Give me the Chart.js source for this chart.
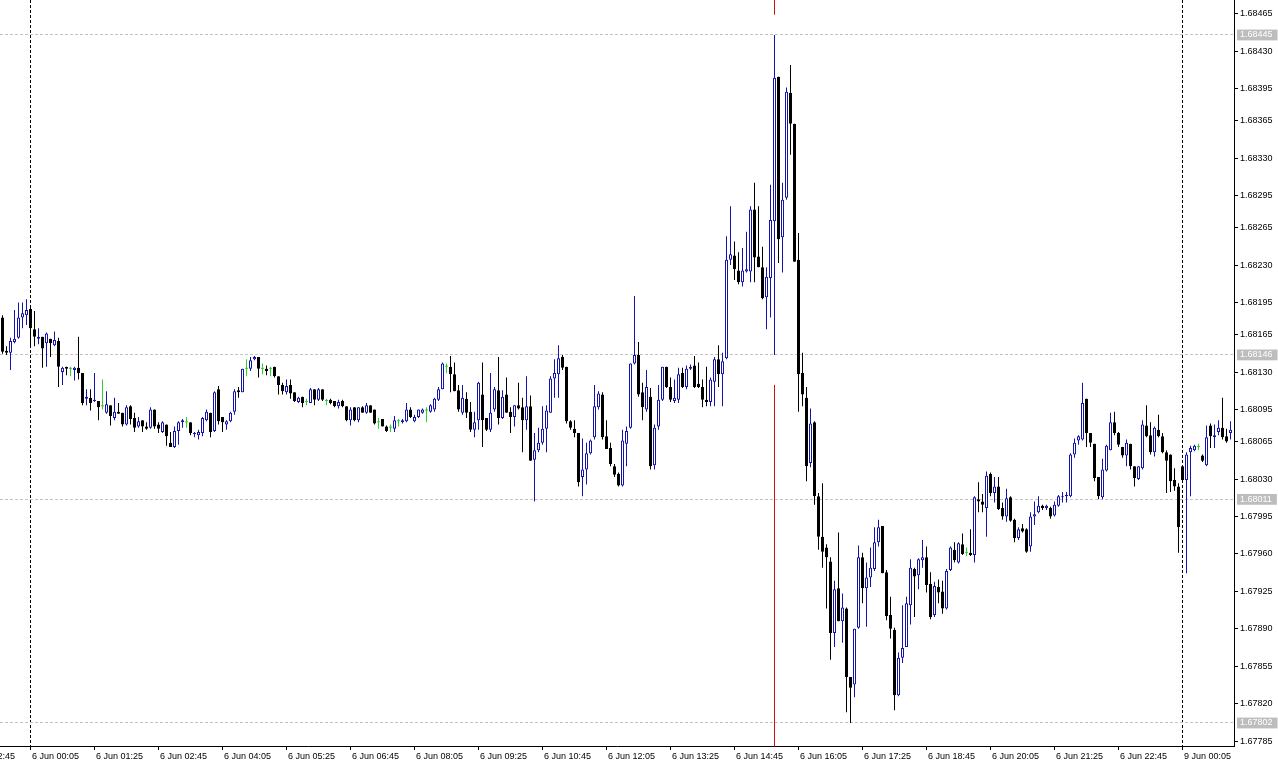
<!DOCTYPE html>
<html>
<head>
<meta charset="utf-8">
<script src="https://cdn.jsdelivr.net/npm/chart.js@4/dist/chart.umd.min.js"></script>
<style>
  html, body { margin: 0; padding: 0; background: #fff; }
  #wrap { width: 1278px; height: 765px; position: relative; }
</style>
</head>
<body>
<div id="wrap"><canvas id="priceChart"></canvas></div>
<script>
// M5 candles, one per bar index (0 = first bar on screen)
const open = [
  1.68181,1.68150,1.68148,1.68158,1.68162,1.68181,1.68183,1.68189,1.68170,1.68161,
  1.68163,1.68157,1.68161,1.68155,1.68159,1.68130,1.68135,1.68133,1.68132,1.68134,
  1.68129,1.68105,1.68106,1.68103,1.68103,1.68098,1.68092,1.68099,1.68087,1.68093,
  1.68092,1.68081,1.68098,1.68087,1.68079,1.68085,1.68079,1.68078,1.68095,1.68081,
  1.68074,1.68081,1.68064,1.68060,1.68075,1.68083,1.68083,1.68083,1.68072,1.68071,
  1.68073,1.68085,1.68092,1.68075,1.68114,1.68088,1.68081,1.68084,1.68093,1.68113,
  1.68111,1.68133,1.68133,1.68142,1.68144,1.68133,1.68133,1.68133,1.68135,1.68126,
  1.68118,1.68111,1.68118,1.68111,1.68102,1.68107,1.68102,1.68101,1.68114,1.68104,
  1.68114,1.68103,1.68104,1.68103,1.68098,1.68103,1.68098,1.68085,1.68097,1.68085,
  1.68097,1.68092,1.68099,1.68095,1.68083,1.68086,1.68079,1.68078,1.68077,1.68084,
  1.68083,1.68084,1.68095,1.68084,1.68088,1.68092,1.68094,1.68093,1.68095,1.68104,
  1.68114,1.68135,1.68135,1.68128,1.68113,1.68092,1.68105,1.68093,1.68076,1.68085,
  1.68109,1.68087,1.68076,1.68095,1.68113,1.68087,1.68109,1.68093,1.68088,1.68099,
  1.68097,1.68085,1.68098,1.68048,1.68057,1.68064,1.68077,1.68092,1.68124,1.68128,
  1.68144,1.68135,1.68084,1.68077,1.68073,1.68032,1.68039,1.68054,1.68069,1.68097,
  1.68109,1.68070,1.68059,1.68042,1.68035,1.68024,1.68063,1.68078,1.68138,1.68146,
  1.68111,1.68095,1.68107,1.68043,1.68079,1.68104,1.68135,1.68116,1.68103,1.68104,
  1.68129,1.68116,1.68133,1.68136,1.68119,1.68116,1.68104,1.68102,1.68121,1.68142,
  1.68128,1.68143,1.68235,1.68239,1.68225,1.68214,1.68224,1.68224,1.68282,1.68238,
  1.68228,1.68200,1.68218,1.68271,1.68406,1.68256,1.68293,1.68391,1.68362,1.68235,
  1.68129,1.68106,1.68045,1.68083,1.68014,1.67976,1.67966,1.67953,1.67886,1.67928,
  1.67897,1.67909,1.67845,1.67838,1.67891,1.67957,1.67928,1.67938,1.67946,1.67971,
  1.67986,1.67943,1.67903,1.67889,1.67828,1.67863,1.67873,1.67912,1.67946,1.67940,
  1.67954,1.67957,1.67932,1.67903,1.67929,1.67925,1.67909,1.67945,1.67964,1.67952,
  1.67969,1.67961,1.67961,1.67959,1.68011,1.68009,1.68003,1.68035,1.68017,1.68023,
  1.68003,1.67995,1.68013,1.67992,1.67975,1.67984,1.67983,1.67967,1.67995,1.67999,
  1.68005,1.68003,1.68003,1.67996,1.68005,1.68013,1.68014,1.68014,1.68053,1.68066,
  1.68067,1.68105,1.68073,1.68063,1.68032,1.68013,1.68038,1.68057,1.68083,1.68073,
  1.68060,1.68052,1.68063,1.68042,1.68030,1.68040,1.68080,1.68071,1.68055,1.68076,
  1.68070,1.68055,1.68053,1.68029,1.68023,1.68042,1.68029,1.68055,1.68057,1.68060,
  1.68052,1.68043,1.68080,1.68069,1.68074,1.68078,1.68070,1.68073
];
const high = [
  1.68183,1.68154,1.68162,1.68188,1.68195,1.68195,1.68198,1.68190,1.68187,1.68171,
  1.68163,1.68167,1.68161,1.68168,1.68162,1.68135,1.68135,1.68135,1.68135,1.68163,
  1.68129,1.68114,1.68114,1.68129,1.68103,1.68123,1.68112,1.68099,1.68106,1.68101,
  1.68092,1.68099,1.68099,1.68092,1.68088,1.68085,1.68083,1.68097,1.68095,1.68083,
  1.68084,1.68081,1.68074,1.68079,1.68084,1.68086,1.68088,1.68083,1.68074,1.68076,
  1.68088,1.68095,1.68092,1.68112,1.68117,1.68088,1.68085,1.68093,1.68114,1.68116,
  1.68133,1.68142,1.68144,1.68145,1.68144,1.68138,1.68136,1.68135,1.68135,1.68126,
  1.68120,1.68123,1.68123,1.68111,1.68107,1.68107,1.68105,1.68115,1.68114,1.68115,
  1.68114,1.68105,1.68105,1.68103,1.68104,1.68104,1.68098,1.68097,1.68097,1.68097,
  1.68098,1.68101,1.68099,1.68095,1.68087,1.68086,1.68080,1.68081,1.68089,1.68086,
  1.68086,1.68101,1.68097,1.68090,1.68095,1.68096,1.68097,1.68100,1.68106,1.68116,
  1.68139,1.68138,1.68145,1.68139,1.68118,1.68118,1.68111,1.68102,1.68093,1.68121,
  1.68139,1.68087,1.68129,1.68116,1.68144,1.68113,1.68125,1.68097,1.68099,1.68120,
  1.68106,1.68126,1.68108,1.68073,1.68078,1.68098,1.68099,1.68126,1.68142,1.68155,
  1.68146,1.68135,1.68085,1.68085,1.68073,1.68068,1.68064,1.68067,1.68118,1.68112,
  1.68111,1.68085,1.68064,1.68044,1.68036,1.68076,1.68079,1.68138,1.68201,1.68158,
  1.68120,1.68132,1.68115,1.68081,1.68118,1.68135,1.68135,1.68125,1.68123,1.68134,
  1.68134,1.68136,1.68137,1.68145,1.68139,1.68123,1.68135,1.68125,1.68144,1.68155,
  1.68148,1.68257,1.68285,1.68252,1.68242,1.68246,1.68261,1.68285,1.68307,1.68285,
  1.68247,1.68228,1.68305,1.68445,1.68406,1.68307,1.68396,1.68417,1.68362,1.68260,
  1.68148,1.68116,1.68096,1.68084,1.68017,1.68026,1.67969,1.67957,1.67935,1.67980,
  1.67923,1.67910,1.67845,1.67890,1.67968,1.67961,1.67952,1.67966,1.67985,1.67992,
  1.67986,1.67945,1.67920,1.67891,1.67868,1.67912,1.67920,1.67955,1.67947,1.67956,
  1.67973,1.67967,1.67943,1.67934,1.67936,1.67935,1.67946,1.67967,1.67971,1.67971,
  1.67979,1.67966,1.67983,1.68014,1.68027,1.68016,1.68037,1.68036,1.68032,1.68032,
  1.68008,1.68021,1.68014,1.67993,1.67985,1.67988,1.67984,1.67999,1.68009,1.68014,
  1.68006,1.68006,1.68004,1.68009,1.68015,1.68018,1.68018,1.68054,1.68068,1.68071,
  1.68120,1.68105,1.68073,1.68063,1.68032,1.68049,1.68062,1.68092,1.68093,1.68074,
  1.68060,1.68067,1.68063,1.68042,1.68042,1.68085,1.68099,1.68083,1.68079,1.68090,
  1.68073,1.68057,1.68053,1.68040,1.68026,1.68042,1.68055,1.68061,1.68062,1.68063,
  1.68053,1.68080,1.68082,1.68081,1.68085,1.68106,1.68077,1.68084
];
const low = [
  1.68147,1.68146,1.68132,1.68157,1.68161,1.68171,1.68174,1.68154,1.68154,1.68156,
  1.68134,1.68135,1.68144,1.68154,1.68116,1.68118,1.68127,1.68126,1.68122,1.68123,
  1.68099,1.68099,1.68094,1.68102,1.68085,1.68095,1.68091,1.68080,1.68085,1.68091,
  1.68079,1.68080,1.68081,1.68074,1.68078,1.68074,1.68076,1.68077,1.68077,1.68073,
  1.68073,1.68061,1.68060,1.68059,1.68062,1.68078,1.68078,1.68071,1.68069,1.68067,
  1.68070,1.68084,1.68069,1.68074,1.68081,1.68074,1.68076,1.68083,1.68090,1.68106,
  1.68111,1.68126,1.68131,1.68141,1.68125,1.68128,1.68127,1.68126,1.68125,1.68109,
  1.68109,1.68109,1.68105,1.68102,1.68101,1.68097,1.68099,1.68101,1.68099,1.68103,
  1.68103,1.68099,1.68100,1.68097,1.68096,1.68097,1.68084,1.68080,1.68084,1.68083,
  1.68092,1.68091,1.68092,1.68081,1.68077,1.68079,1.68074,1.68074,1.68074,1.68079,
  1.68082,1.68083,1.68087,1.68083,1.68087,1.68091,1.68083,1.68092,1.68093,1.68103,
  1.68114,1.68129,1.68111,1.68112,1.68093,1.68090,1.68087,1.68074,1.68069,1.68076,
  1.68060,1.68075,1.68074,1.68093,1.68081,1.68086,1.68092,1.68073,1.68079,1.68095,
  1.68055,1.68076,1.68047,1.68009,1.68055,1.68062,1.68055,1.68092,1.68106,1.68106,
  1.68132,1.68082,1.68076,1.68069,1.68023,1.68014,1.68025,1.68053,1.68067,1.68095,
  1.68067,1.68058,1.68042,1.68032,1.68023,1.68023,1.68042,1.68077,1.68137,1.68107,
  1.68085,1.68093,1.68039,1.68039,1.68076,1.68103,1.68115,1.68102,1.68101,1.68101,
  1.68115,1.68114,1.68132,1.68115,1.68115,1.68097,1.68098,1.68098,1.68098,1.68116,
  1.68098,1.68142,1.68230,1.68216,1.68212,1.68210,1.68223,1.68214,1.68214,1.68228,
  1.68198,1.68170,1.68181,1.68146,1.68232,1.68223,1.68291,1.68333,1.68233,1.68093,
  1.68098,1.68028,1.68041,1.68006,1.67964,1.67947,1.67909,1.67861,1.67873,1.67897,
  1.67877,1.67812,1.67802,1.67826,1.67890,1.67914,1.67892,1.67929,1.67944,1.67967,
  1.67942,1.67898,1.67881,1.67814,1.67827,1.67858,1.67873,1.67894,1.67901,1.67927,
  1.67947,1.67924,1.67899,1.67901,1.67914,1.67904,1.67908,1.67944,1.67952,1.67951,
  1.67959,1.67958,1.67958,1.67952,1.67999,1.67999,1.67976,1.68014,1.68008,1.68001,
  1.67992,1.67990,1.67990,1.67971,1.67973,1.67980,1.67961,1.67962,1.67987,1.67998,
  1.68001,1.68001,1.67993,1.67995,1.68004,1.68008,1.68008,1.68013,1.68050,1.68062,
  1.68066,1.68060,1.68060,1.68028,1.68011,1.68011,1.68037,1.68057,1.68071,1.68060,
  1.68050,1.68042,1.68039,1.68023,1.68029,1.68039,1.68069,1.68053,1.68051,1.68069,
  1.68054,1.68017,1.68018,1.68019,1.67961,1.68028,1.67942,1.68014,1.68056,1.68057,
  1.68046,1.68042,1.68059,1.68059,1.68071,1.68067,1.68064,1.68067
];
const close = [
  1.68149,1.68148,1.68159,1.68161,1.68181,1.68185,1.68188,1.68171,1.68163,1.68163,
  1.68152,1.68166,1.68157,1.68160,1.68135,1.68134,1.68133,1.68133,1.68134,1.68129,
  1.68101,1.68107,1.68101,1.68104,1.68097,1.68098,1.68100,1.68089,1.68093,1.68091,
  1.68081,1.68097,1.68086,1.68078,1.68084,1.68079,1.68077,1.68095,1.68079,1.68077,
  1.68083,1.68070,1.68060,1.68075,1.68083,1.68085,1.68083,1.68073,1.68073,1.68074,
  1.68087,1.68093,1.68074,1.68111,1.68084,1.68083,1.68084,1.68092,1.68112,1.68111,
  1.68133,1.68133,1.68141,1.68144,1.68133,1.68133,1.68131,1.68133,1.68126,1.68118,
  1.68112,1.68117,1.68110,1.68103,1.68106,1.68101,1.68102,1.68114,1.68104,1.68114,
  1.68104,1.68103,1.68101,1.68098,1.68102,1.68098,1.68085,1.68095,1.68085,1.68097,
  1.68092,1.68099,1.68092,1.68082,1.68083,1.68079,1.68075,1.68078,1.68085,1.68084,
  1.68085,1.68095,1.68088,1.68088,1.68095,1.68095,1.68094,1.68099,1.68105,1.68114,
  1.68138,1.68135,1.68128,1.68112,1.68095,1.68106,1.68092,1.68076,1.68083,1.68120,
  1.68085,1.68076,1.68092,1.68114,1.68087,1.68107,1.68092,1.68088,1.68099,1.68096,
  1.68085,1.68098,1.68047,1.68057,1.68064,1.68077,1.68094,1.68124,1.68129,1.68143,
  1.68134,1.68084,1.68078,1.68073,1.68027,1.68039,1.68054,1.68066,1.68098,1.68110,
  1.68069,1.68058,1.68044,1.68034,1.68024,1.68066,1.68075,1.68138,1.68146,1.68109,
  1.68097,1.68116,1.68042,1.68078,1.68104,1.68135,1.68116,1.68104,1.68106,1.68128,
  1.68116,1.68133,1.68135,1.68116,1.68116,1.68104,1.68102,1.68123,1.68142,1.68128,
  1.68140,1.68235,1.68240,1.68226,1.68214,1.68225,1.68226,1.68282,1.68237,1.68228,
  1.68199,1.68219,1.68272,1.68405,1.68254,1.68291,1.68392,1.68362,1.68233,1.68128,
  1.68109,1.68042,1.68082,1.68014,1.67976,1.67962,1.67957,1.67886,1.67927,1.67897,
  1.67910,1.67845,1.67835,1.67890,1.67957,1.67928,1.67938,1.67947,1.67971,1.67985,
  1.67942,1.67902,1.67890,1.67828,1.67863,1.67872,1.67914,1.67947,1.67939,1.67955,
  1.67957,1.67931,1.67901,1.67930,1.67924,1.67909,1.67944,1.67966,1.67954,1.67970,
  1.67960,1.67961,1.67959,1.68013,1.68009,1.68006,1.68033,1.68017,1.68023,1.68002,
  1.67995,1.68012,1.67991,1.67975,1.67983,1.67981,1.67962,1.67995,1.67997,1.68005,
  1.68003,1.68005,1.67995,1.68006,1.68014,1.68014,1.68015,1.68053,1.68064,1.68070,
  1.68101,1.68073,1.68064,1.68031,1.68014,1.68039,1.68061,1.68083,1.68073,1.68062,
  1.68052,1.68064,1.68042,1.68031,1.68042,1.68081,1.68070,1.68055,1.68078,1.68070,
  1.68055,1.68047,1.68028,1.68023,1.67985,1.68029,1.68053,1.68059,1.68061,1.68060,
  1.68047,1.68069,1.68070,1.68071,1.68078,1.68069,1.68065,1.68076
];

// price scale labels (MT4 rounds them, so steps are uneven)
const priceTicks = [1.68465, 1.68430, 1.68395, 1.68365, 1.68330, 1.68295, 1.68265,
  1.68230, 1.68195, 1.68165, 1.68130, 1.68095, 1.68065, 1.68030, 1.67995, 1.67960,
  1.67925, 1.67890, 1.67855, 1.67820, 1.67785];
// horizontal line objects
const levelPrices = [1.68445, 1.68146, 1.68011, 1.67802];

// time axis: bar index of each label
const timeTicks = [-9, 7, 23, 39, 55, 71, 87, 103, 119, 135, 151, 167, 183, 199, 215, 231, 247, 263, 279, 295];
const timeLabels = ['5 Jun 22:45', '6 Jun 00:05', '6 Jun 01:25', '6 Jun 02:45', '6 Jun 04:05',
  '6 Jun 05:25', '6 Jun 06:45', '6 Jun 08:05', '6 Jun 09:25', '6 Jun 10:45', '6 Jun 12:05',
  '6 Jun 13:25', '6 Jun 14:45', '6 Jun 16:05', '6 Jun 17:25', '6 Jun 18:45', '6 Jun 20:05',
  '6 Jun 21:25', '6 Jun 22:45', '9 Jun 00:05'];
const daySeparators = [7, 295];

// red vertical line on the spike bar
const redLineBar = 193;
const redLineSegments = [[1.68478, 1.68464], [1.68118, 1.67780]];

const BULL = '#1414aa';
const BEAR = '#000000';
const DOJI = '#2ed12e';
const NONE = 'rgba(0,0,0,0)';

const candleColor = i => close[i] > open[i] ? BULL : (close[i] < open[i] ? BEAR : DOJI);

const bodies = open.map((o, i) => ({ x: i, y: [Math.min(o, close[i]), Math.max(o, close[i])] }));
const wicks = open.map((o, i) => ({ x: i, y: [low[i], high[i]] }));

const axisFont = { family: '"Liberation Sans", Arial, sans-serif', size: 9 };

const redLine = {
  id: 'redLine',
  beforeDatasetsDraw(chart) {
    const { ctx, scales: { x, y } } = chart;
    const px = x.getPixelForValue(redLineBar);
    ctx.save();
    ctx.strokeStyle = '#cc1111';
    ctx.lineWidth = 1;
    redLineSegments.forEach(([a, b]) => {
      ctx.beginPath();
      ctx.moveTo(px, y.getPixelForValue(a));
      ctx.lineTo(px, y.getPixelForValue(b));
      ctx.stroke();
    });
    ctx.restore();
  }
};

new Chart(document.getElementById('priceChart'), {
  type: 'bar',
  data: {
    datasets: [
      {
        label: 'body',
        data: bodies,
        grouped: false,
        barThickness: 3,
        minBarLength: 1,
        inflateAmount: 0,
        borderSkipped: false,
        borderWidth: c => candleColor(c.dataIndex) === DOJI ? 0 : 1,
        borderColor: c => candleColor(c.dataIndex),
        backgroundColor: c => {
          const col = candleColor(c.dataIndex);
          return col === BULL ? '#ffffff' : col;
        }
      },
      {
        label: 'wick',
        data: wicks,
        grouped: false,
        barThickness: 1,
        inflateAmount: 0,
        borderWidth: 0,
        backgroundColor: c => candleColor(c.dataIndex)
      }
    ]
  },
  options: {
    responsive: true,
    maintainAspectRatio: false,
    animation: false,
    events: [],
    layout: { padding: 0 },
    plugins: {
      legend: { display: false },
      tooltip: { enabled: false }
    },
    scales: {
      x: {
        type: 'linear',
        min: -0.625,
        max: 307.875,
        offset: false,
        afterBuildTicks: s => { s.ticks = timeTicks.map(v => ({ value: v })); },
        afterFit: s => { s.height = 19; s.paddingLeft = 0; s.paddingRight = 0; },
        ticks: {
          autoSkip: false,
          maxRotation: 0,
          minRotation: 0,
          align: 'start',
          labelOffset: 1.5,
          padding: 1,
          color: '#000',
          font: axisFont,
          callback: (v, i) => timeLabels[i]
        },
        grid: {
          offset: false,
          drawOnChartArea: true,
          color: c => daySeparators.includes(c.tick && c.tick.value) ? '#000' : NONE,
          tickColor: '#000',
          tickLength: 4
        },
        border: { display: true, color: '#000', width: 1, dash: [3, 2] }
      },
      y: {
        position: 'right',
        min: 1.677805,
        max: 1.684777,
        afterBuildTicks: s => {
          s.ticks = priceTicks.concat(levelPrices).sort((a, b) => a - b).map(v => ({ value: v }));
        },
        afterFit: s => { s.width = 44; s.paddingTop = 0; s.paddingBottom = 0; },
        ticks: {
          padding: 2,
          font: axisFont,
          color: c => levelPrices.includes(c.tick.value) ? '#ffffff' : '#000',
          showLabelBackdrop: c => levelPrices.includes(c.tick.value),
          backdropColor: '#bdbdbd',
          backdropPadding: { left: 3, right: 5, top: 0, bottom: 0 },
          callback: v => v.toFixed(5)
        },
        grid: {
          drawOnChartArea: true,
          color: c => levelPrices.includes(c.tick && c.tick.value) ? '#c4c4c4' : NONE,
          tickColor: c => levelPrices.includes(c.tick && c.tick.value) ? NONE : '#000',
          tickLength: 4
        },
        border: { display: true, color: '#000', width: 1, dash: [3, 2] }
      }
    }
  },
  plugins: [redLine]
});
</script>
</body>
</html>
